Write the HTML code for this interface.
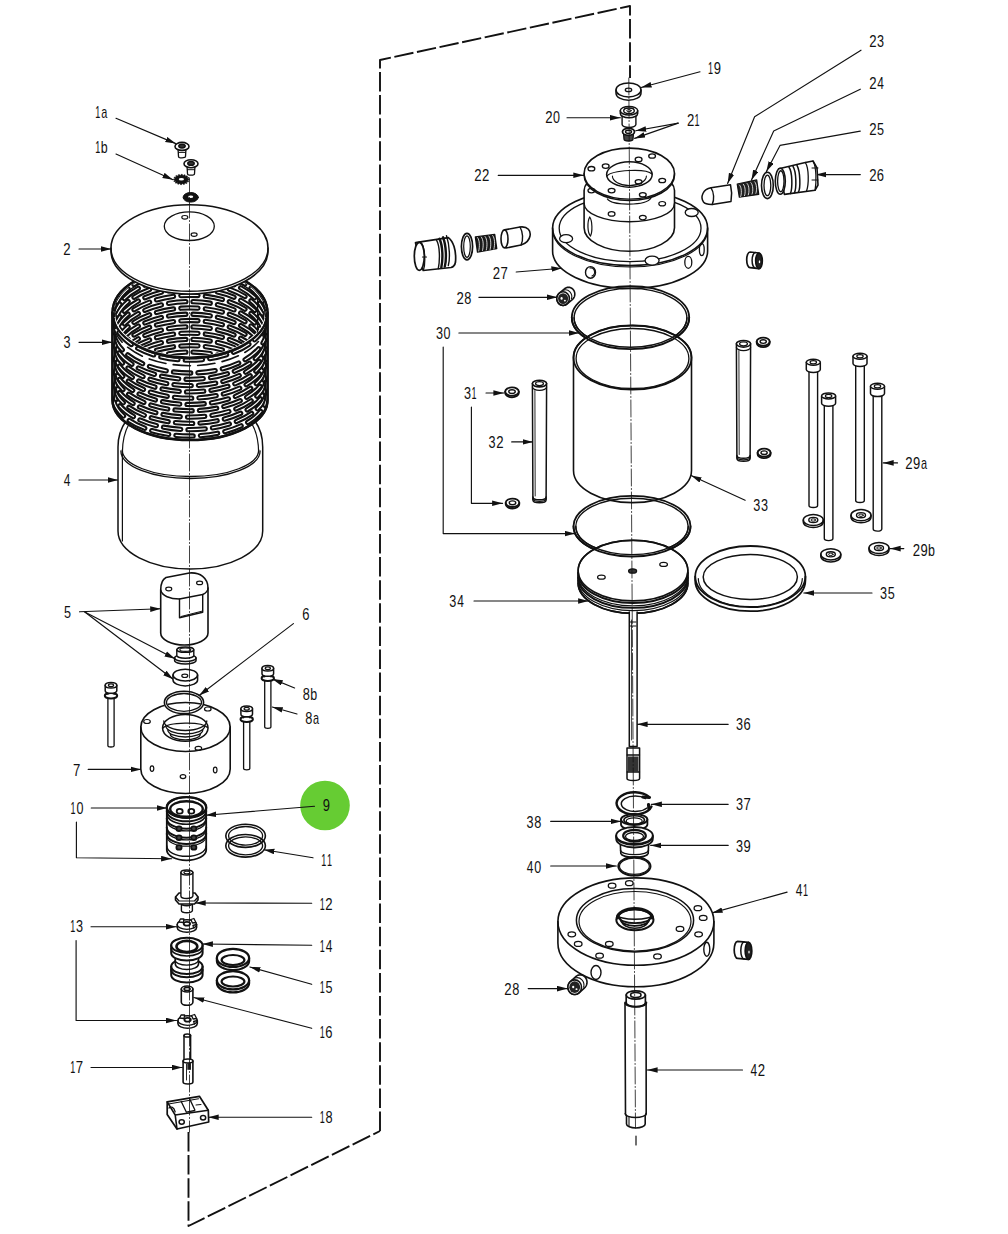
<!DOCTYPE html>
<html><head><meta charset="utf-8"><style>
html,body{margin:0;padding:0;background:#fff;}
svg{display:block;}
text{font-family:"Liberation Sans",sans-serif;fill:#111;stroke:none;}
</style></head><body>
<svg width="1008" height="1234" viewBox="0 0 1008 1234" stroke="#111" stroke-linecap="round" stroke-linejoin="round">
<defs><marker id="ah" markerUnits="userSpaceOnUse" markerWidth="12" markerHeight="8" refX="10.5" refY="3" orient="auto"><path d="M0,0.2 L10.5,3 L0,5.8 Z" fill="#111" stroke="none"/></marker></defs>
<rect width="1008" height="1234" fill="#fff" stroke="none"/>
<path d="M380,1131 L380,60 L630,6 L630,78" stroke-width="1.9" fill="none" stroke-dasharray="19.5 3.6" stroke-linecap="butt"/>
<path d="M188.5,1132 L188.5,1226 L380,1131" stroke-width="1.9" fill="none" stroke-dasharray="19.5 3.6" stroke-linecap="butt"/>
<circle cx="325" cy="805.5" r="24.8" fill="#66cc33" stroke="none"/>
<text transform="translate(95.31,118) scale(0.573,1)" font-size="15.8">1</text>
<text transform="translate(101.14,118) scale(0.690,1)" font-size="15.8">a</text>
<text transform="translate(95.31,152.6) scale(0.573,1)" font-size="15.8">1</text>
<text transform="translate(100.8,152.6) scale(0.788,1)" font-size="15.8">b</text>
<text transform="translate(63.34,255.2) scale(0.834,1)" font-size="15.8">2</text>
<text transform="translate(63.52,348.2) scale(0.801,1)" font-size="15.8">3</text>
<text transform="translate(63.73,485.5) scale(0.754,1)" font-size="15.8">4</text>
<text transform="translate(64.09,617.7) scale(0.801,1)" font-size="15.8">5</text>
<text transform="translate(302.14,619.8) scale(0.823,1)" font-size="15.8">6</text>
<text transform="translate(73.02,775.8) scale(0.835,1)" font-size="15.8">7</text>
<text transform="translate(302.74,699.7) scale(0.809,1)" font-size="15.8">8</text>
<text transform="translate(310.2,699.7) scale(0.788,1)" font-size="15.8">b</text>
<text transform="translate(305.24,723.5) scale(0.809,1)" font-size="15.8">8</text>
<text transform="translate(313.04,723.5) scale(0.690,1)" font-size="15.8">a</text>
<text transform="translate(322.79,811) scale(0.822,1)" font-size="15.8">9</text>
<text transform="translate(70.61,814) scale(0.573,1)" font-size="15.8">1</text>
<text transform="translate(76.41,814) scale(0.794,1)" font-size="15.8">0</text>
<text transform="translate(321.31,865.8) scale(0.573,1)" font-size="15.8">1</text>
<text transform="translate(326.91,865.8) scale(0.573,1)" font-size="15.8">1</text>
<text transform="translate(319.71,909.5) scale(0.573,1)" font-size="15.8">1</text>
<text transform="translate(325.34,909.5) scale(0.834,1)" font-size="15.8">2</text>
<text transform="translate(70.21,932) scale(0.573,1)" font-size="15.8">1</text>
<text transform="translate(76.02,932) scale(0.801,1)" font-size="15.8">3</text>
<text transform="translate(319.71,951.5) scale(0.573,1)" font-size="15.8">1</text>
<text transform="translate(325.73,951.5) scale(0.754,1)" font-size="15.8">4</text>
<text transform="translate(319.71,993) scale(0.573,1)" font-size="15.8">1</text>
<text transform="translate(325.49,993) scale(0.801,1)" font-size="15.8">5</text>
<text transform="translate(319.71,1038.4) scale(0.573,1)" font-size="15.8">1</text>
<text transform="translate(325.34,1038.4) scale(0.823,1)" font-size="15.8">6</text>
<text transform="translate(70.21,1073.2) scale(0.573,1)" font-size="15.8">1</text>
<text transform="translate(75.82,1073.2) scale(0.835,1)" font-size="15.8">7</text>
<text transform="translate(319.71,1123) scale(0.573,1)" font-size="15.8">1</text>
<text transform="translate(325.44,1123) scale(0.809,1)" font-size="15.8">8</text>
<text transform="translate(708.11,73.6) scale(0.573,1)" font-size="15.8">1</text>
<text transform="translate(713.79,73.6) scale(0.822,1)" font-size="15.8">9</text>
<text transform="translate(545.14,123.1) scale(0.834,1)" font-size="15.8">2</text>
<text transform="translate(553.01,123.1) scale(0.794,1)" font-size="15.8">0</text>
<text transform="translate(686.94,126.4) scale(0.834,1)" font-size="15.8">2</text>
<text transform="translate(694.61,126.4) scale(0.573,1)" font-size="15.8">1</text>
<text transform="translate(474.34,181.3) scale(0.834,1)" font-size="15.8">2</text>
<text transform="translate(482.04,181.3) scale(0.834,1)" font-size="15.8">2</text>
<text transform="translate(869.14,47) scale(0.834,1)" font-size="15.8">2</text>
<text transform="translate(877.02,47) scale(0.801,1)" font-size="15.8">3</text>
<text transform="translate(869.14,89.2) scale(0.834,1)" font-size="15.8">2</text>
<text transform="translate(877.23,89.2) scale(0.754,1)" font-size="15.8">4</text>
<text transform="translate(869.14,134.9) scale(0.834,1)" font-size="15.8">2</text>
<text transform="translate(876.99,134.9) scale(0.801,1)" font-size="15.8">5</text>
<text transform="translate(869.14,181.3) scale(0.834,1)" font-size="15.8">2</text>
<text transform="translate(876.84,181.3) scale(0.823,1)" font-size="15.8">6</text>
<text transform="translate(492.84,279.3) scale(0.834,1)" font-size="15.8">2</text>
<text transform="translate(500.52,279.3) scale(0.835,1)" font-size="15.8">7</text>
<text transform="translate(456.44,304.1) scale(0.834,1)" font-size="15.8">2</text>
<text transform="translate(464.24,304.1) scale(0.809,1)" font-size="15.8">8</text>
<text transform="translate(905.34,469.2) scale(0.834,1)" font-size="15.8">2</text>
<text transform="translate(913.09,469.2) scale(0.822,1)" font-size="15.8">9</text>
<text transform="translate(920.94,469.2) scale(0.690,1)" font-size="15.8">a</text>
<text transform="translate(912.64,555.6) scale(0.834,1)" font-size="15.8">2</text>
<text transform="translate(920.39,555.6) scale(0.822,1)" font-size="15.8">9</text>
<text transform="translate(927.9,555.6) scale(0.788,1)" font-size="15.8">b</text>
<text transform="translate(435.92,338.9) scale(0.801,1)" font-size="15.8">3</text>
<text transform="translate(443.61,338.9) scale(0.794,1)" font-size="15.8">0</text>
<text transform="translate(464.12,398.75) scale(0.801,1)" font-size="15.8">3</text>
<text transform="translate(471.61,398.75) scale(0.573,1)" font-size="15.8">1</text>
<text transform="translate(488.62,447.6) scale(0.801,1)" font-size="15.8">3</text>
<text transform="translate(496.14,447.6) scale(0.834,1)" font-size="15.8">2</text>
<text transform="translate(753.22,511.1) scale(0.801,1)" font-size="15.8">3</text>
<text transform="translate(760.92,511.1) scale(0.801,1)" font-size="15.8">3</text>
<text transform="translate(449.22,607.2) scale(0.801,1)" font-size="15.8">3</text>
<text transform="translate(457.13,607.2) scale(0.754,1)" font-size="15.8">4</text>
<text transform="translate(880.12,599.4) scale(0.801,1)" font-size="15.8">3</text>
<text transform="translate(887.79,599.4) scale(0.801,1)" font-size="15.8">5</text>
<text transform="translate(735.92,730.4) scale(0.801,1)" font-size="15.8">3</text>
<text transform="translate(743.44,730.4) scale(0.823,1)" font-size="15.8">6</text>
<text transform="translate(735.92,810) scale(0.801,1)" font-size="15.8">3</text>
<text transform="translate(743.42,810) scale(0.835,1)" font-size="15.8">7</text>
<text transform="translate(526.62,827.9) scale(0.801,1)" font-size="15.8">3</text>
<text transform="translate(534.24,827.9) scale(0.809,1)" font-size="15.8">8</text>
<text transform="translate(735.92,851.8) scale(0.801,1)" font-size="15.8">3</text>
<text transform="translate(743.49,851.8) scale(0.822,1)" font-size="15.8">9</text>
<text transform="translate(526.83,873.2) scale(0.754,1)" font-size="15.8">4</text>
<text transform="translate(534.31,873.2) scale(0.794,1)" font-size="15.8">0</text>
<text transform="translate(795.73,896.4) scale(0.754,1)" font-size="15.8">4</text>
<text transform="translate(803.01,896.4) scale(0.573,1)" font-size="15.8">1</text>
<text transform="translate(504.34,995) scale(0.834,1)" font-size="15.8">2</text>
<text transform="translate(512.14,995) scale(0.809,1)" font-size="15.8">8</text>
<text transform="translate(750.43,1076) scale(0.754,1)" font-size="15.8">4</text>
<text transform="translate(757.74,1076) scale(0.834,1)" font-size="15.8">2</text>
<path d="M116,118.3 L175.8,143.6" stroke-width="1.15" fill="none" marker-end="url(#ah)"/>
<path d="M116,154 L173,179.7" stroke-width="1.15" fill="none" marker-end="url(#ah)"/>
<path d="M79,249 L111.3,249" stroke-width="1.15" fill="none" marker-end="url(#ah)"/>
<path d="M79,342.3 L112.4,342.3" stroke-width="1.15" fill="none" marker-end="url(#ah)"/>
<path d="M79,480 L118,480" stroke-width="1.15" fill="none" marker-end="url(#ah)"/>
<path d="M79.5,611.8 L160.7,608.75" stroke-width="1.15" fill="none" marker-end="url(#ah)"/>
<path d="M84.8,612 L175,658.75" stroke-width="1.15" fill="none" marker-end="url(#ah)"/>
<path d="M84.8,612 L173.2,679.3" stroke-width="1.15" fill="none" marker-end="url(#ah)"/>
<path d="M293.4,623.6 L199.1,695.5" stroke-width="1.15" fill="none" marker-end="url(#ah)"/>
<path d="M88.2,769.4 L141.2,769.4" stroke-width="1.15" fill="none" marker-end="url(#ah)"/>
<path d="M294.6,688 L272.3,678.9" stroke-width="1.15" fill="none" marker-end="url(#ah)"/>
<path d="M297,714 L272.3,707" stroke-width="1.15" fill="none" marker-end="url(#ah)"/>
<path d="M314.5,806.3 L205.8,815.2" stroke-width="1.15" fill="none" marker-end="url(#ah)"/>
<path d="M91.25,808 L167.1,808" stroke-width="1.15" fill="none" marker-end="url(#ah)"/>
<path d="M76.4,822 L76.4,857.8 L171.6,858.7" stroke-width="1.15" fill="none" marker-end="url(#ah)"/>
<path d="M313,857.8 L263.9,849.8" stroke-width="1.15" fill="none" marker-end="url(#ah)"/>
<path d="M311.7,903.2 L195.2,903" stroke-width="1.15" fill="none" marker-end="url(#ah)"/>
<path d="M91,926.7 L176.5,926.7" stroke-width="1.15" fill="none" marker-end="url(#ah)"/>
<path d="M76.1,940.6 L76.1,1020.5 L176.5,1020.5" stroke-width="1.15" fill="none" marker-end="url(#ah)"/>
<path d="M311.7,945.2 L202.4,944" stroke-width="1.15" fill="none" marker-end="url(#ah)"/>
<path d="M311.7,984.3 L249.9,967" stroke-width="1.15" fill="none" marker-end="url(#ah)"/>
<path d="M311.7,1028.3 L193.8,997.5" stroke-width="1.15" fill="none" marker-end="url(#ah)"/>
<path d="M91,1067.5 L182.3,1067.5" stroke-width="1.15" fill="none" marker-end="url(#ah)"/>
<path d="M311.7,1117.2 L208.2,1117.2" stroke-width="1.15" fill="none" marker-end="url(#ah)"/>
<path d="M700,71.8 L641.1,87.5" stroke-width="1.15" fill="none" marker-end="url(#ah)"/>
<path d="M567,117.7 L620.4,117.7" stroke-width="1.15" fill="none" marker-end="url(#ah)"/>
<path d="M678.2,123.1 L635.7,130.75" stroke-width="1.15" fill="none" marker-end="url(#ah)"/>
<path d="M678.2,123.1 L634.6,138.4" stroke-width="1.15" fill="none" marker-end="url(#ah)"/>
<path d="M498.2,175.3 L583.8,175.3" stroke-width="1.15" fill="none" marker-end="url(#ah)"/>
<path d="M861,50.2 L754.6,116.8 L727.6,183.5" stroke-width="1.15" fill="none" marker-end="url(#ah)"/>
<path d="M860.3,89.2 L773.7,131.1 L751.4,180.3" stroke-width="1.15" fill="none" marker-end="url(#ah)"/>
<path d="M860.3,131.1 L780,145.4 L766.3,171.7" stroke-width="1.15" fill="none" marker-end="url(#ah)"/>
<path d="M860.3,174.6 L815.9,174.6" stroke-width="1.15" fill="none" marker-end="url(#ah)"/>
<path d="M516.2,272 L561.9,268.2" stroke-width="1.15" fill="none" marker-end="url(#ah)"/>
<path d="M478.9,297.3 L557.5,297.3" stroke-width="1.15" fill="none" marker-end="url(#ah)"/>
<path d="M458.9,333 L579,333" stroke-width="1.15" fill="none" marker-end="url(#ah)"/>
<path d="M443.2,347 L443.2,533.6 L575.1,533.6" stroke-width="1.15" fill="none" marker-end="url(#ah)"/>
<path d="M486,393 L503.9,393" stroke-width="1.15" fill="none" marker-end="url(#ah)"/>
<path d="M471.4,407 L471.4,503.3 L502.6,503.3" stroke-width="1.15" fill="none" marker-end="url(#ah)"/>
<path d="M511.7,441.9 L533,441.9" stroke-width="1.15" fill="none" marker-end="url(#ah)"/>
<path d="M745.1,500.3 L691.1,475.6" stroke-width="1.15" fill="none" marker-end="url(#ah)"/>
<path d="M474,601 L588.6,601" stroke-width="1.15" fill="none" marker-end="url(#ah)"/>
<path d="M897.5,462.9 L883.2,462.9" stroke-width="1.15" fill="none" marker-end="url(#ah)"/>
<path d="M903.8,548.6 L890.2,548.6" stroke-width="1.15" fill="none" marker-end="url(#ah)"/>
<path d="M872,593 L803.8,593" stroke-width="1.15" fill="none" marker-end="url(#ah)"/>
<path d="M728.2,724.3 L637.1,724.3" stroke-width="1.15" fill="none" marker-end="url(#ah)"/>
<path d="M728.2,804.3 L651.4,804.3" stroke-width="1.15" fill="none" marker-end="url(#ah)"/>
<path d="M550.7,821.4 L621,821.4" stroke-width="1.15" fill="none" marker-end="url(#ah)"/>
<path d="M728.2,845.4 L650.7,845.4" stroke-width="1.15" fill="none" marker-end="url(#ah)"/>
<path d="M550.7,866 L616.4,866" stroke-width="1.15" fill="none" marker-end="url(#ah)"/>
<path d="M787.1,892.1 L712.1,912.9" stroke-width="1.15" fill="none" marker-end="url(#ah)"/>
<path d="M528.2,988.6 L567.5,988.6" stroke-width="1.15" fill="none" marker-end="url(#ah)"/>
<path d="M742.5,1070 L647.1,1070" stroke-width="1.15" fill="none" marker-end="url(#ah)"/>
<path d="M118,447 C118,437 121,428 126,421 L255,421 C260,428 262.7,437 262.7,447 L262.7,531 A72.35,38 0 0 1 118,531 Z" stroke-width="0" fill="#fff" stroke="none"/>
<path d="M126,421 C121,428 118,437 118,447 L118,531 A72.35,38 0 0 0 262.7,531 L262.7,447 C262.7,437 260,428 255,421" stroke-width="1.5" fill="none" />
<path d="M129,424 C124.5,432 122.5,442 122.4,452 L122.4,541" stroke-width="1.2" fill="none" />
<path d="M252,424 C256.5,432 258.5,442 258.6,452" stroke-width="1.2" fill="none" />
<path d="M122.3,450 A68.2,26.5 0 0 0 258.7,450" stroke-width="1.3" fill="none" />
<path d="M120.9,451 A69.6,27.5 0 0 0 260.1,451" stroke-width="1.3" fill="none" />
<defs><clipPath id="mtopc"><ellipse cx="190" cy="313" rx="76.5" ry="43.8"/></clipPath><clipPath id="mbody"><path d="M112.5,312.5 L112.5,400 A77.5,40 0 0 0 267.5,400 L267.5,312.5 A77.5,45 0 0 1 112.5,312.5 Z"/></clipPath></defs>
<path d="M112.5,312.5 A77.5,45 0 0 1 267.5,312.5 L267.5,400 A77.5,40 0 0 1 112.5,400 Z" stroke-width="2.2" fill="#fff" />
<g clip-path="url(#mtopc)">
<path d="M114.5,307.8 A75.5,44 0 0 1 265.5,307.8" stroke-width="5.3" fill="none" stroke-dasharray="17.3 7.3" stroke-dashoffset="0"/>
<path d="M114.5,307.8 A75.5,44 0 0 1 265.5,307.8" stroke-width="1.15" fill="none" stroke="#fff" stroke-dasharray="17.3 7.3" stroke-dashoffset="0"/>
<path d="M114.5,314.1 A75.5,44 0 0 1 265.5,314.1" stroke-width="5.3" fill="none" stroke-dasharray="17.3 7.3" stroke-dashoffset="12.3"/>
<path d="M114.5,314.1 A75.5,44 0 0 1 265.5,314.1" stroke-width="1.15" fill="none" stroke="#fff" stroke-dasharray="17.3 7.3" stroke-dashoffset="12.3"/>
<path d="M114.5,320.4 A75.5,44 0 0 1 265.5,320.4" stroke-width="5.3" fill="none" stroke-dasharray="17.3 7.3" stroke-dashoffset="0"/>
<path d="M114.5,320.4 A75.5,44 0 0 1 265.5,320.4" stroke-width="1.15" fill="none" stroke="#fff" stroke-dasharray="17.3 7.3" stroke-dashoffset="0"/>
<path d="M114.5,326.7 A75.5,44 0 0 1 265.5,326.7" stroke-width="5.3" fill="none" stroke-dasharray="17.3 7.3" stroke-dashoffset="12.3"/>
<path d="M114.5,326.7 A75.5,44 0 0 1 265.5,326.7" stroke-width="1.15" fill="none" stroke="#fff" stroke-dasharray="17.3 7.3" stroke-dashoffset="12.3"/>
<path d="M114.5,333 A75.5,44 0 0 1 265.5,333" stroke-width="5.3" fill="none" stroke-dasharray="17.3 7.3" stroke-dashoffset="0"/>
<path d="M114.5,333 A75.5,44 0 0 1 265.5,333" stroke-width="1.15" fill="none" stroke="#fff" stroke-dasharray="17.3 7.3" stroke-dashoffset="0"/>
<path d="M114.5,339.3 A75.5,44 0 0 1 265.5,339.3" stroke-width="5.3" fill="none" stroke-dasharray="17.3 7.3" stroke-dashoffset="12.3"/>
<path d="M114.5,339.3 A75.5,44 0 0 1 265.5,339.3" stroke-width="1.15" fill="none" stroke="#fff" stroke-dasharray="17.3 7.3" stroke-dashoffset="12.3"/>
<path d="M114.5,345.6 A75.5,44 0 0 1 265.5,345.6" stroke-width="5.3" fill="none" stroke-dasharray="17.3 7.3" stroke-dashoffset="0"/>
<path d="M114.5,345.6 A75.5,44 0 0 1 265.5,345.6" stroke-width="1.15" fill="none" stroke="#fff" stroke-dasharray="17.3 7.3" stroke-dashoffset="0"/>
<path d="M114.5,351.9 A75.5,44 0 0 1 265.5,351.9" stroke-width="5.3" fill="none" stroke-dasharray="17.3 7.3" stroke-dashoffset="12.3"/>
<path d="M114.5,351.9 A75.5,44 0 0 1 265.5,351.9" stroke-width="1.15" fill="none" stroke="#fff" stroke-dasharray="17.3 7.3" stroke-dashoffset="12.3"/>
<path d="M114.5,358.2 A75.5,44 0 0 1 265.5,358.2" stroke-width="5.3" fill="none" stroke-dasharray="17.3 7.3" stroke-dashoffset="0"/>
<path d="M114.5,358.2 A75.5,44 0 0 1 265.5,358.2" stroke-width="1.15" fill="none" stroke="#fff" stroke-dasharray="17.3 7.3" stroke-dashoffset="0"/>
<path d="M114.5,364.5 A75.5,44 0 0 1 265.5,364.5" stroke-width="5.3" fill="none" stroke-dasharray="17.3 7.3" stroke-dashoffset="12.3"/>
<path d="M114.5,364.5 A75.5,44 0 0 1 265.5,364.5" stroke-width="1.15" fill="none" stroke="#fff" stroke-dasharray="17.3 7.3" stroke-dashoffset="12.3"/>
<path d="M114.5,370.8 A75.5,44 0 0 1 265.5,370.8" stroke-width="5.3" fill="none" stroke-dasharray="17.3 7.3" stroke-dashoffset="0"/>
<path d="M114.5,370.8 A75.5,44 0 0 1 265.5,370.8" stroke-width="1.15" fill="none" stroke="#fff" stroke-dasharray="17.3 7.3" stroke-dashoffset="0"/>
<path d="M114.5,377.1 A75.5,44 0 0 1 265.5,377.1" stroke-width="5.3" fill="none" stroke-dasharray="17.3 7.3" stroke-dashoffset="12.3"/>
<path d="M114.5,377.1 A75.5,44 0 0 1 265.5,377.1" stroke-width="1.15" fill="none" stroke="#fff" stroke-dasharray="17.3 7.3" stroke-dashoffset="12.3"/>
<path d="M114.5,383.4 A75.5,44 0 0 1 265.5,383.4" stroke-width="5.3" fill="none" stroke-dasharray="17.3 7.3" stroke-dashoffset="0"/>
<path d="M114.5,383.4 A75.5,44 0 0 1 265.5,383.4" stroke-width="1.15" fill="none" stroke="#fff" stroke-dasharray="17.3 7.3" stroke-dashoffset="0"/>
<path d="M114.5,389.7 A75.5,44 0 0 1 265.5,389.7" stroke-width="5.3" fill="none" stroke-dasharray="17.3 7.3" stroke-dashoffset="12.3"/>
<path d="M114.5,389.7 A75.5,44 0 0 1 265.5,389.7" stroke-width="1.15" fill="none" stroke="#fff" stroke-dasharray="17.3 7.3" stroke-dashoffset="12.3"/>
<path d="M114.5,396 A75.5,44 0 0 1 265.5,396" stroke-width="5.3" fill="none" stroke-dasharray="17.3 7.3" stroke-dashoffset="0"/>
<path d="M114.5,396 A75.5,44 0 0 1 265.5,396" stroke-width="1.15" fill="none" stroke="#fff" stroke-dasharray="17.3 7.3" stroke-dashoffset="0"/>
</g>
<g clip-path="url(#mbody)">
<path d="M113,315.36 A77,44.84 0 0 0 267,315.36" stroke-width="5.3" fill="none" stroke-dasharray="17.3 7.3" stroke-dashoffset="6"/>
<path d="M113,315.36 A77,44.84 0 0 0 267,315.36" stroke-width="1.15" fill="none" stroke="#fff" stroke-dasharray="17.3 7.3" stroke-dashoffset="6"/>
<path d="M113,328.94 A77,44.06 0 0 0 267,328.94" stroke-width="5.3" fill="none" stroke-dasharray="17.3 7.3" stroke-dashoffset="18.3"/>
<path d="M113,328.94 A77,44.06 0 0 0 267,328.94" stroke-width="1.15" fill="none" stroke="#fff" stroke-dasharray="17.3 7.3" stroke-dashoffset="18.3"/>
<path d="M113,335.62 A77,43.68 0 0 0 267,335.62" stroke-width="5.3" fill="none" stroke-dasharray="17.3 7.3" stroke-dashoffset="6"/>
<path d="M113,335.62 A77,43.68 0 0 0 267,335.62" stroke-width="1.15" fill="none" stroke="#fff" stroke-dasharray="17.3 7.3" stroke-dashoffset="6"/>
<path d="M113,342.3 A77,43.3 0 0 0 267,342.3" stroke-width="5.3" fill="none" stroke-dasharray="17.3 7.3" stroke-dashoffset="18.3"/>
<path d="M113,342.3 A77,43.3 0 0 0 267,342.3" stroke-width="1.15" fill="none" stroke="#fff" stroke-dasharray="17.3 7.3" stroke-dashoffset="18.3"/>
<path d="M113,348.98 A77,42.92 0 0 0 267,348.98" stroke-width="5.3" fill="none" stroke-dasharray="17.3 7.3" stroke-dashoffset="6"/>
<path d="M113,348.98 A77,42.92 0 0 0 267,348.98" stroke-width="1.15" fill="none" stroke="#fff" stroke-dasharray="17.3 7.3" stroke-dashoffset="6"/>
<path d="M113,355.67 A77,42.53 0 0 0 267,355.67" stroke-width="5.3" fill="none" stroke-dasharray="17.3 7.3" stroke-dashoffset="18.3"/>
<path d="M113,355.67 A77,42.53 0 0 0 267,355.67" stroke-width="1.15" fill="none" stroke="#fff" stroke-dasharray="17.3 7.3" stroke-dashoffset="18.3"/>
<path d="M113,362.35 A77,42.15 0 0 0 267,362.35" stroke-width="5.3" fill="none" stroke-dasharray="17.3 7.3" stroke-dashoffset="6"/>
<path d="M113,362.35 A77,42.15 0 0 0 267,362.35" stroke-width="1.15" fill="none" stroke="#fff" stroke-dasharray="17.3 7.3" stroke-dashoffset="6"/>
<path d="M113,369.03 A77,41.77 0 0 0 267,369.03" stroke-width="5.3" fill="none" stroke-dasharray="17.3 7.3" stroke-dashoffset="18.3"/>
<path d="M113,369.03 A77,41.77 0 0 0 267,369.03" stroke-width="1.15" fill="none" stroke="#fff" stroke-dasharray="17.3 7.3" stroke-dashoffset="18.3"/>
<path d="M113,375.71 A77,41.39 0 0 0 267,375.71" stroke-width="5.3" fill="none" stroke-dasharray="17.3 7.3" stroke-dashoffset="6"/>
<path d="M113,375.71 A77,41.39 0 0 0 267,375.71" stroke-width="1.15" fill="none" stroke="#fff" stroke-dasharray="17.3 7.3" stroke-dashoffset="6"/>
<path d="M113,382.39 A77,41.01 0 0 0 267,382.39" stroke-width="5.3" fill="none" stroke-dasharray="17.3 7.3" stroke-dashoffset="18.3"/>
<path d="M113,382.39 A77,41.01 0 0 0 267,382.39" stroke-width="1.15" fill="none" stroke="#fff" stroke-dasharray="17.3 7.3" stroke-dashoffset="18.3"/>
<path d="M113,389.08 A77,40.62 0 0 0 267,389.08" stroke-width="5.3" fill="none" stroke-dasharray="17.3 7.3" stroke-dashoffset="6"/>
<path d="M113,389.08 A77,40.62 0 0 0 267,389.08" stroke-width="1.15" fill="none" stroke="#fff" stroke-dasharray="17.3 7.3" stroke-dashoffset="6"/>
<path d="M113,395.76 A77,40.24 0 0 0 267,395.76" stroke-width="5.3" fill="none" stroke-dasharray="17.3 7.3" stroke-dashoffset="18.3"/>
<path d="M113,395.76 A77,40.24 0 0 0 267,395.76" stroke-width="1.15" fill="none" stroke="#fff" stroke-dasharray="17.3 7.3" stroke-dashoffset="18.3"/>
<path d="M113,321.2 A77,44.5 0 0 0 267,321.2" stroke-width="1.6" fill="none" stroke-dasharray="17.3 7.3" stroke-dashoffset="18.3"/>
</g>
<path d="M113.5,312.5 A76.5,45 0 0 0 266.5,312.5" stroke-width="3.0" fill="none" stroke="#fff"/>
<path d="M113.5,313.5 A76.5,45 0 0 0 266.5,313.5" stroke-width="1.3" fill="none" />
<ellipse cx="190" cy="312.5" rx="77.5" ry="45" stroke-width="2.2" fill="none" />
<path d="M114.5,316.5 A75.5,44 0 0 1 265.5,316.5" stroke-width="1.3" fill="none" />
<path d="M112.5,312.5 L112.5,400 A77.5,40 0 0 0 267.5,400 L267.5,312.5" stroke-width="2.6" fill="none" />
<path d="M114.5,318.5 L114.5,400" stroke-width="1.2" fill="none" />
<path d="M265.5,318.5 L265.5,400" stroke-width="1.2" fill="none" />
<line x1="257.6" y1="298" x2="257.6" y2="332" stroke-width="1.3" />
<path d="M111,248 A78.5,43.3 0 0 1 268,248 L268,250.7 A78.5,43.3 0 0 1 111,250.7 Z" stroke-width="1.6" fill="#fff" />
<path d="M111,248 A78.5,43.3 0 0 0 268,248" stroke-width="1.4" fill="none" />
<ellipse cx="189.3" cy="226.2" rx="25" ry="14.3" stroke-width="1.3" fill="none" />
<ellipse cx="184.8" cy="217.3" rx="3" ry="1.8" stroke-width="1.2" fill="none" />
<ellipse cx="194.1" cy="234.6" rx="3" ry="1.8" stroke-width="1.2" fill="none" />
<path d="M178,148.4 L178.5,156.4 A3.5,1.5 0 0 0 185.5,156.4 L186,148.4" stroke-width="1.3" fill="#fff" />
<line x1="178.4" y1="152.4" x2="185.6" y2="152.4" stroke-width="1" />
<ellipse cx="182" cy="146.4" rx="7" ry="4" stroke-width="1.6" fill="#fff" />
<ellipse cx="182" cy="146.1" rx="3.2" ry="1.8" stroke-width="1.5" fill="#333" />
<path d="M187,165.7 L187.5,173.7 A3.5,1.5 0 0 0 194.5,173.7 L195,165.7" stroke-width="1.3" fill="#fff" />
<line x1="187.4" y1="169.7" x2="194.6" y2="169.7" stroke-width="1" />
<ellipse cx="191" cy="163.7" rx="7" ry="4" stroke-width="1.6" fill="#fff" />
<ellipse cx="191" cy="163.4" rx="3.2" ry="1.8" stroke-width="1.5" fill="#333" />
<path d="M189.40,179.50 L189.36,180.01 L187.83,180.33 L187.68,180.74 L188.79,181.49 L188.46,181.95 L186.85,181.87 L186.47,182.21 L187.06,183.18 L186.48,183.52 L185.04,183.05 L184.49,183.26 L184.46,184.30 L183.72,184.48 L182.68,183.68 L182.04,183.74 L181.40,184.70 L180.62,184.67 L180.12,183.68 L179.50,183.58 L178.34,184.30 L177.63,184.09 L177.76,183.05 L177.24,182.80 L175.74,183.18 L175.22,182.80 L175.95,181.87 L175.61,181.51 L174.01,181.49 L173.74,181.01 L174.97,180.33 L174.87,179.92 L173.40,179.50 L173.44,178.99 L174.97,178.67 L175.12,178.26 L174.01,177.51 L174.34,177.05 L175.95,177.13 L176.33,176.79 L175.74,175.82 L176.32,175.48 L177.76,175.95 L178.31,175.74 L178.34,174.70 L179.08,174.52 L180.12,175.32 L180.76,175.26 L181.40,174.30 L182.18,174.33 L182.68,175.32 L183.30,175.42 L184.46,174.70 L185.17,174.91 L185.04,175.95 L185.56,176.20 L187.06,175.82 L187.58,176.20 L186.85,177.13 L187.19,177.49 L188.79,177.51 L189.06,177.99 L187.83,178.67 L187.93,179.08 Z" stroke-width="0.6" fill="#111" />
<ellipse cx="181.4" cy="179.3" rx="2.6" ry="1.2" stroke-width="0" fill="#fff" stroke="none"/>
<ellipse cx="190.7" cy="197.3" rx="7.6" ry="4.8" stroke-width="1" fill="#111" />
<ellipse cx="190.7" cy="196.8" rx="2.5" ry="1.3" stroke-width="0" fill="#fff" stroke="none"/>
<path d="M160.7,590 C160.7,583 163,579 166,577.5 L189.3,573 C200,572 208,578 208,588 L208,633 A23.6,12 0 0 1 160.7,633 Z" stroke-width="1.6" fill="#fff" />
<path d="M160.7,590 C162,596 170,599 179.5,599 L202.7,594.5 C206,593 208,591 208,588" stroke-width="1.4" fill="none" />
<path d="M179.5,599 L179.5,617.7 L202.7,612.3 L202.7,594.5" stroke-width="1.4" fill="none" />
<path d="M181,616.5 L202.7,611" stroke-width="1.0" fill="none" />
<ellipse cx="168.75" cy="589" rx="3" ry="1.8" stroke-width="1.2" fill="none" />
<ellipse cx="199.6" cy="582.9" rx="3" ry="1.8" stroke-width="1.2" fill="none" />
<path d="M174.6,657.9 A10.7,3.6 0 0 1 196,657.9 L196,660.5 A10.7,3.6 0 0 1 174.6,660.5 Z" stroke-width="1.5" fill="#fff" />
<path d="M174.6,657.9 A10.7,3.6 0 0 0 196,657.9" stroke-width="1.5" fill="none" />
<path d="M176.8,649.7 A8.5,2.7 0 0 1 193.8,649.7 L193.8,655.5 A8.5,2.7 0 0 1 176.8,655.5 Z" stroke-width="1.4" fill="#fff" />
<path d="M176.8,649.7 A8.5,2.7 0 0 0 193.8,649.7" stroke-width="1.4" fill="none" />
<ellipse cx="185.3" cy="649.7" rx="5.5" ry="1.7" stroke-width="1.1" fill="none" />
<path d="M173,675.1 A12.3,5.9 0 0 1 197.6,675.1 L197.6,680 A12.3,5.9 0 0 1 173,680 Z" stroke-width="1.5" fill="#fff" />
<path d="M173,675.1 A12.3,5.9 0 0 0 197.6,675.1" stroke-width="1.5" fill="none" />
<ellipse cx="184.8" cy="675.8" rx="3" ry="1.7" stroke-width="1.2" fill="none" />
<path d="M140.8,727 A44.7,24.5 0 0 1 230.2,727 L230.2,769 A44.7,24.5 0 0 1 140.8,769 Z" stroke-width="1.6" fill="#fff" />
<path d="M140.8,727 A44.7,24.5 0 0 0 230.2,727" stroke-width="1.6" fill="none" />
<ellipse cx="185.3" cy="727.9" rx="22.75" ry="13.4" stroke-width="1.5" fill="#fff" />
<path d="M163,728 C168,722 202,721 207.5,727.5" stroke-width="1.2" fill="none" />
<path d="M163.8,721 A21.5,9.5 0 0 0 206.8,721" stroke-width="1.3" fill="none" />
<path d="M165.8,725.7 A19.5,8.3 0 0 0 204.8,725.7" stroke-width="1.3" fill="none" />
<path d="M167.8,729.9 A17.5,7.1 0 0 0 202.8,729.9" stroke-width="1.3" fill="none" />
<path d="M170.3,733.9 A15,5.9 0 0 0 200.3,733.9" stroke-width="1.3" fill="none" />
<ellipse cx="147" cy="721.5" rx="3.3" ry="2" stroke-width="1.2" fill="none" />
<ellipse cx="207.8" cy="709" rx="3.3" ry="2" stroke-width="1.2" fill="none" />
<ellipse cx="198.4" cy="748.3" rx="3.3" ry="2" stroke-width="1.2" fill="none" />
<ellipse cx="152" cy="768.6" rx="1.8" ry="2.8" stroke-width="1.2" fill="none" />
<ellipse cx="183" cy="776.6" rx="2.8" ry="2" stroke-width="1.2" fill="none" />
<ellipse cx="215.2" cy="770" rx="1.8" ry="2.8" stroke-width="1.2" fill="none" />
<ellipse cx="184" cy="702.4" rx="18.55" ry="10.05" stroke-width="3.2" fill="none" stroke="#fff"/>
<ellipse cx="184" cy="702.4" rx="19.6" ry="11.2" stroke-width="1.6" fill="none" />
<ellipse cx="184" cy="702.4" rx="17.5" ry="8.9" stroke-width="1.3" fill="none" />
<path d="M107.9,695.7 L107.9,745.7 A3.1,1.3 0 0 0 114.1,745.7 L114.1,695.7 Z" stroke-width="1.3" fill="#fff" />
<ellipse cx="111" cy="695.7" rx="6.2" ry="2.7" stroke-width="2.0" fill="#fff" />
<path d="M105.2,685.3 L105.2,690.8 A5.8,2.5 0 0 0 116.8,690.8 L116.8,685.3 Z" stroke-width="1.5" fill="#fff" />
<ellipse cx="111" cy="685.3" rx="5.8" ry="2.8" stroke-width="1.5" fill="#fff" />
<ellipse cx="111" cy="685.3" rx="2.6" ry="1.4" stroke-width="1.2" fill="none" />
<path d="M107.9,693.3 L107.9,694.2 M114.1,693.3 L114.1,694.2" stroke-width="1.3" fill="none" />
<path d="M243.6,719.3 L243.6,768.6 A3.1,1.3 0 0 0 249.79999999999998,768.6 L249.79999999999998,719.3 Z" stroke-width="1.3" fill="#fff" />
<ellipse cx="246.7" cy="719.3" rx="6.2" ry="2.7" stroke-width="2.0" fill="#fff" />
<path d="M240.89999999999998,708.8 L240.89999999999998,714.3 A5.8,2.5 0 0 0 252.5,714.3 L252.5,708.8 Z" stroke-width="1.5" fill="#fff" />
<ellipse cx="246.7" cy="708.8" rx="5.8" ry="2.8" stroke-width="1.5" fill="#fff" />
<ellipse cx="246.7" cy="708.8" rx="2.6" ry="1.4" stroke-width="1.2" fill="none" />
<path d="M243.6,716.8 L243.6,717.8 M249.79999999999998,716.8 L249.79999999999998,717.8" stroke-width="1.3" fill="none" />
<path d="M264.7,678.3 L264.7,727 A3.1,1.3 0 0 0 270.90000000000003,727 L270.90000000000003,678.3 Z" stroke-width="1.3" fill="#fff" />
<ellipse cx="267.8" cy="678.3" rx="6.2" ry="2.7" stroke-width="2.0" fill="#fff" />
<path d="M262.0,668.3 L262.0,673.8 A5.8,2.5 0 0 0 273.6,673.8 L273.6,668.3 Z" stroke-width="1.5" fill="#fff" />
<ellipse cx="267.8" cy="668.3" rx="5.8" ry="2.8" stroke-width="1.5" fill="#fff" />
<ellipse cx="267.8" cy="668.3" rx="2.6" ry="1.4" stroke-width="1.2" fill="none" />
<path d="M264.7,676.3 L264.7,676.8 M270.90000000000003,676.3 L270.90000000000003,676.8" stroke-width="1.3" fill="none" />
<path d="M166.8,807.4 A19.7,10.3 0 0 1 206.2,807.4 L206.2,850 A19.7,10.3 0 0 1 166.8,850 Z" stroke-width="1.8" fill="#fff" />
<path d="M166.8,807.4 A19.7,10.3 0 0 0 206.2,807.4" stroke-width="1.8" fill="none" />
<ellipse cx="186.5" cy="807.4" rx="19.7" ry="10.3" stroke-width="2.4" fill="none" />
<ellipse cx="186.5" cy="809" rx="16.3" ry="7.8" stroke-width="2.4" fill="none" />
<path d="M166.8,811 A19.7,10.3 0 0 0 206.2,811" stroke-width="2.0" fill="none" />
<path d="M166.8,814 A19.7,10.3 0 0 0 206.2,814" stroke-width="1.6" fill="none" />
<path d="M166.8,818.4 A19.7,10.3 0 0 0 206.2,818.4" stroke-width="2.0" fill="none" />
<path d="M166.8,820.6 A19.7,10.3 0 0 0 206.2,820.6" stroke-width="1.2" fill="none" />
<path d="M166.8,827.4 A19.7,10.3 0 0 0 206.2,827.4" stroke-width="2.0" fill="none" />
<path d="M166.8,829.6 A19.7,10.3 0 0 0 206.2,829.6" stroke-width="1.2" fill="none" />
<path d="M166.8,833.7 A19.7,10.3 0 0 0 206.2,833.7" stroke-width="2.0" fill="none" />
<path d="M166.8,835.9 A19.7,10.3 0 0 0 206.2,835.9" stroke-width="1.2" fill="none" />
<path d="M166.8,846 A19.7,10.3 0 0 0 206.2,846" stroke-width="1.4" fill="none" />
<ellipse cx="179.7" cy="811.3" rx="3" ry="2.4" stroke-width="1.8" fill="none" />
<ellipse cx="191.3" cy="811.3" rx="3" ry="2.4" stroke-width="1.8" fill="none" />
<ellipse cx="179" cy="828.7" rx="2.6" ry="2.3" stroke-width="1.8" fill="#444" />
<ellipse cx="193.8" cy="828.7" rx="2.6" ry="2.3" stroke-width="1.8" fill="#444" />
<ellipse cx="179" cy="837.7" rx="2.6" ry="2.3" stroke-width="1.8" fill="#444" />
<ellipse cx="193.8" cy="837.7" rx="2.6" ry="2.3" stroke-width="1.8" fill="#444" />
<ellipse cx="179" cy="847.4" rx="2.6" ry="2.3" stroke-width="1.8" fill="#444" />
<ellipse cx="193.8" cy="847.4" rx="2.6" ry="2.3" stroke-width="1.8" fill="#444" />
<ellipse cx="245.6" cy="845.8" rx="19.8" ry="11.3" stroke-width="1.6" fill="none" />
<ellipse cx="245.6" cy="845.8" rx="17" ry="9" stroke-width="1.3" fill="none" />
<ellipse cx="245.6" cy="835.8" rx="19.8" ry="11.6" stroke-width="1.6" fill="none" />
<ellipse cx="245.6" cy="835.8" rx="17" ry="9.3" stroke-width="1.3" fill="none" />
<path d="M181.4,903.5 A5.5,2.2 0 0 1 192.4,903.5 L192.4,910.5 A5.5,2.2 0 0 1 181.4,910.5 Z" stroke-width="1.4" fill="#fff" />
<path d="M181.4,903.5 A5.5,2.2 0 0 0 192.4,903.5" stroke-width="1.4" fill="none" />
<path d="M175.5,897 L179,893 L195,893 L198,897 L198,900 L194.5,904 L179,904 L175.5,900 Z" stroke-width="1.6" fill="#fff" />
<path d="M175.5,897 L179,901 L194.5,901 L198,897" stroke-width="1.2" fill="none" />
<path d="M180.9,872.5 A6,2.5 0 0 1 192.9,872.5 L192.9,896 A6,2.5 0 0 1 180.9,896 Z" stroke-width="1.4" fill="#fff" />
<path d="M180.9,872.5 A6,2.5 0 0 0 192.9,872.5" stroke-width="1.4" fill="none" />
<ellipse cx="186.9" cy="872.5" rx="3" ry="1.3" stroke-width="1.1" fill="none" />
<path d="M177.20000000000002,924.5 L177.20000000000002,927.5 A9.7,4.8 0 0 0 196.6,927.5 L196.6,924.5 A9.7,4.8 0 0 0 177.20000000000002,924.5 Z" stroke-width="1.6" fill="#fff" />
<path d="M177.2,924.5 A9.7,4.8 0 0 0 196.6,924.5" stroke-width="1.3" fill="none" />
<ellipse cx="186.9" cy="923.7" rx="3.2" ry="1.9" stroke-width="1.8" fill="none" />
<path d="M178.9,922.0 L180.4,919.0 L183.9,919.0 L183.4,922.5 Z" stroke-width="1.3" fill="#fff" />
<path d="M190.9,919.5 L193.9,918.5 L195.9,922.5 L192.4,923.0 Z" stroke-width="1.3" fill="#fff" />
<path d="M196.6,924.5 L192.9,925.5 L193.9,928.0" stroke-width="1.3" fill="none" />
<path d="M177.9,1020.5 L177.9,1023.5 A9.7,4.8 0 0 0 197.29999999999998,1023.5 L197.29999999999998,1020.5 A9.7,4.8 0 0 0 177.9,1020.5 Z" stroke-width="1.6" fill="#fff" />
<path d="M177.9,1020.5 A9.7,4.8 0 0 0 197.3,1020.5" stroke-width="1.3" fill="none" />
<ellipse cx="187.6" cy="1019.7" rx="3.2" ry="1.9" stroke-width="1.8" fill="none" />
<path d="M179.6,1018.0 L181.1,1015.0 L184.6,1015.0 L184.1,1018.5 Z" stroke-width="1.3" fill="#fff" />
<path d="M191.6,1015.5 L194.6,1014.5 L196.6,1018.5 L193.1,1019.0 Z" stroke-width="1.3" fill="#fff" />
<path d="M197.29999999999998,1020.5 L193.6,1021.5 L194.6,1024.0" stroke-width="1.3" fill="none" />
<path d="M171.2,966.5 A15.7,7.5 0 0 1 202.6,966.5 L202.6,975 A15.7,7.5 0 0 1 171.2,975 Z" stroke-width="2.0" fill="#fff" />
<path d="M171.2,966.5 A15.7,7.5 0 0 0 202.6,966.5" stroke-width="2.0" fill="none" />
<path d="M171.2,969.8 A15.7,7.5 0 0 0 202.6,969.8" stroke-width="2.0" fill="none" />
<path d="M175.3,955 A11.6,5.5 0 0 1 198.5,955 L198.5,964 A11.6,5.5 0 0 1 175.3,964 Z" stroke-width="1.6" fill="#fff" />
<path d="M171.2,945.3 A15.7,7.5 0 0 1 202.6,945.3 L202.6,953 A15.7,7.5 0 0 1 171.2,953 Z" stroke-width="2.0" fill="#fff" />
<path d="M171.2,945.3 A15.7,7.5 0 0 0 202.6,945.3" stroke-width="2.0" fill="none" />
<path d="M171.2,948.5 A15.7,7.5 0 0 0 202.6,948.5" stroke-width="1.6" fill="none" />
<ellipse cx="186.9" cy="946.5" rx="10.4" ry="5.6" stroke-width="2.6" fill="none" />
<path d="M175,960 A11.6,5 0 0 0 198.5,960" stroke-width="1.2" fill="none" />
<path d="M216.9,957.9 A16.1,9.1 0 0 1 249.1,957.9 L249.1,960.9 A16.1,9.1 0 0 1 216.9,960.9 Z" stroke-width="2.2" fill="#fff" />
<path d="M216.9,957.9 A16.1,9.1 0 0 0 249.1,957.9" stroke-width="2.2" fill="none" />
<ellipse cx="233" cy="960" rx="11.4" ry="5" stroke-width="2.2" fill="none" />
<path d="M216.9,980.3 A16.1,9.1 0 0 1 249.1,980.3 L249.1,983.3 A16.1,9.1 0 0 1 216.9,983.3 Z" stroke-width="2.2" fill="#fff" />
<path d="M216.9,980.3 A16.1,9.1 0 0 0 249.1,980.3" stroke-width="2.2" fill="none" />
<ellipse cx="233" cy="981.5" rx="11.4" ry="5" stroke-width="2.2" fill="none" />
<path d="M181.3,989 A5.8,3 0 0 1 192.9,989 L192.9,1002.3 A5.8,3 0 0 1 181.3,1002.3 Z" stroke-width="1.6" fill="#fff" />
<path d="M181.3,989 A5.8,3 0 0 0 192.9,989" stroke-width="1.6" fill="none" />
<ellipse cx="187.1" cy="989" rx="3" ry="1.5" stroke-width="1.6" fill="none" />
<path d="M184,1035.5 A3.3,1.6 0 0 1 190.6,1035.5 L190.6,1061 A3.3,1.6 0 0 1 184,1061 Z" stroke-width="1.5" fill="#fff" />
<path d="M184,1035.5 A3.3,1.6 0 0 0 190.6,1035.5" stroke-width="1.5" fill="none" />
<path d="M183.1,1061 A4.9,2 0 0 1 192.9,1061 L192.9,1082 A4.9,2 0 0 1 183.1,1082 Z" stroke-width="1.6" fill="#fff" />
<path d="M183.1,1061 A4.9,2 0 0 0 192.9,1061" stroke-width="1.6" fill="none" />
<rect x="187.3" y="1063" width="3.7" height="6.8" fill="#222" stroke="none"/>
<line x1="186.5" y1="1064" x2="186.5" y2="1080" stroke-width="0.9" />
<path d="M167.2,1101.9 L199.4,1096.3 L208.3,1110.3 L208.7,1122 L177,1129 L167.2,1114.5 Z" stroke-width="1.7" fill="#fff" />
<path d="M175.2,1115 L208.3,1110.3 M175.2,1115 L177,1129 M167.2,1101.9 L175.2,1115" stroke-width="1.6" fill="none" />
<path d="M168.6,1104 L198.5,1098.8" stroke-width="1.1" fill="none" />
<path d="M181.2,1101.5 L186.4,1112.2 M190,1099.6 L194.8,1109.8 M186.4,1112.2 L194.8,1110.5" stroke-width="1.3" fill="none" />
<path d="M169,1108 C171,1106 174,1107 175.2,1112" stroke-width="1.2" fill="none" />
<path d="M196,1105 L201,1104.5" stroke-width="1.0" fill="none" />
<ellipse cx="181.7" cy="1122" rx="2.6" ry="2.2" stroke-width="1.5" fill="none" />
<ellipse cx="203.1" cy="1117.8" rx="2.6" ry="2.2" stroke-width="1.5" fill="none" />
<line x1="189.5" y1="178" x2="189.5" y2="1132" stroke-width="0.8" stroke-dasharray="17 2.5 1 2.5"/>
<path d="M616,89.9 A12.5,7 0 0 1 641,89.9 L641,93.2 A12.5,7 0 0 1 616,93.2 Z" stroke-width="1.5" fill="#fff" />
<path d="M616,89.9 A12.5,7 0 0 0 641,89.9" stroke-width="1.5" fill="none" />
<ellipse cx="628.5" cy="89.9" rx="3.2" ry="1.8" stroke-width="1.3" fill="none" />
<path d="M622.1,114 A6.9,3 0 0 1 635.9,114 L635.9,124.5 A6.9,3 0 0 1 622.1,124.5 Z" stroke-width="1.4" fill="#fff" />
<path d="M620.3,110.7 A8.7,4.3 0 0 1 637.7,110.7 L637.7,113.5 A8.7,4.3 0 0 1 620.3,113.5 Z" stroke-width="1.5" fill="#fff" />
<path d="M620.3,110.7 A8.7,4.3 0 0 0 637.7,110.7" stroke-width="1.5" fill="none" />
<ellipse cx="629" cy="110.7" rx="5.3" ry="2.7" stroke-width="1.4" fill="none" />
<ellipse cx="629" cy="110.7" rx="2.2" ry="1.1" stroke-width="1.0" fill="none" />
<path d="M623.5,133 L624,139 A4.5,2 0 0 0 633,139 L633.5,133 Z" stroke-width="1.3" fill="#444" />
<ellipse cx="628.5" cy="131.8" rx="6" ry="3.5" stroke-width="1.8" fill="#fff" />
<ellipse cx="628.5" cy="131.8" rx="3" ry="1.6" stroke-width="1.4" fill="none" />
<path d="M552.6,228.1 A77.5,37.5 0 0 1 707.6,228.1 L707.6,250.9 A77.5,37.5 0 0 1 552.6,250.9 Z" stroke-width="1.6" fill="#fff" />
<path d="M552.6,228.1 A77.5,37.5 0 0 0 707.6,228.1" stroke-width="1.6" fill="none" />
<ellipse cx="630.1" cy="228.3" rx="70.9" ry="33.4" stroke-width="1.3" fill="none" />
<path d="M552.6,229.5 A77.5,37.5 0 0 0 707.6,229.5" stroke-width="1.2" fill="none" />
<ellipse cx="566.1" cy="238.7" rx="6.5" ry="4" stroke-width="1.3" fill="#fff" />
<ellipse cx="652.1" cy="260.6" rx="7" ry="4.5" stroke-width="1.3" fill="#fff" />
<ellipse cx="691.7" cy="212.5" rx="6.5" ry="4" stroke-width="1.3" fill="#fff" />
<ellipse cx="590.5" cy="272.4" rx="5" ry="5.8" stroke-width="1.4" fill="none" />
<path d="M590,268 A3,3.5 0 0 1 592,276" stroke-width="1.2" fill="none" />
<ellipse cx="688.3" cy="262.3" rx="3.5" ry="6" stroke-width="1.3" fill="none" />
<ellipse cx="701.8" cy="249.6" rx="2.4" ry="6" stroke-width="1.3" fill="none" />
<path d="M584.0999999999999,190.5 L584.0999999999999,227.7 A45.2,23.6 0 0 0 674.5,227.7 L674.5,190.5 A45.2,20 0 0 0 584.0999999999999,190.5 Z" stroke-width="1.6" fill="#fff" />
<path d="M584.1,203.5 A45.2,18.3 0 0 0 674.5,203.5" stroke-width="1.4" fill="none" />
<path d="M589.7,217 C587,222 587.5,233 590.5,236 C592.5,232 592.5,221 589.7,217 Z" stroke-width="1.2" fill="none" />
<ellipse cx="611.6" cy="213.9" rx="3.4" ry="2.2" stroke-width="1.2" fill="none" />
<ellipse cx="662.2" cy="203.7" rx="3.4" ry="2.2" stroke-width="1.2" fill="none" />
<ellipse cx="642.8" cy="217.6" rx="3.4" ry="2.2" stroke-width="1.2" fill="none" />
<path d="M607.4,199 C612,206 646,206 651,198" stroke-width="1.3" fill="none" />
<path d="M584.0999999999999,173.6 A45.2,25.5 0 0 1 674.5,173.6 L674.5,175 A45.2,25.5 0 0 1 584.0999999999999,175 Z" stroke-width="1.6" fill="#fff" />
<path d="M584.1,173.6 A45.2,25.5 0 0 0 674.5,173.6" stroke-width="1.3" fill="none" />
<ellipse cx="629.4" cy="174.5" rx="22.8" ry="12.65" stroke-width="1.5" fill="none" />
<path d="M607,176 C612,170 646,168 652,174" stroke-width="1.2" fill="none" />
<path d="M612.4,176 A17,9.5 0 0 0 646.4,176" stroke-width="1.1" fill="none" />
<ellipse cx="591.4" cy="168.7" rx="3.4" ry="2.2" stroke-width="1.3" fill="none" />
<ellipse cx="605.7" cy="166.1" rx="3.4" ry="2.2" stroke-width="1.3" fill="none" />
<ellipse cx="638.6" cy="159.4" rx="3.4" ry="2.2" stroke-width="1.3" fill="none" />
<ellipse cx="652.1" cy="156" rx="3.4" ry="2.2" stroke-width="1.3" fill="none" />
<ellipse cx="662.2" cy="180.5" rx="3.4" ry="2.2" stroke-width="1.3" fill="none" />
<ellipse cx="638.6" cy="181.8" rx="3.4" ry="2.2" stroke-width="1.3" fill="none" />
<ellipse cx="611.6" cy="190.6" rx="3.4" ry="2.2" stroke-width="1.3" fill="none" />
<ellipse cx="642.8" cy="194.8" rx="3.4" ry="2.2" stroke-width="1.3" fill="none" />
<ellipse cx="591.4" cy="190.6" rx="3.4" ry="2.2" stroke-width="1.3" fill="none" />
<path d="M711,187.8 C703,189 700,197 703.5,202 C705,204 708,204.5 712.2,204.4 L731,201.4 C731.8,197 731.8,190 730.5,184.7 Z" stroke-width="1.5" fill="#fff" />
<path d="M711,187.8 C714,192 714.5,200 712.2,204.4" stroke-width="1.4" fill="none" />
<path d="M737.2,184 L756.7,179.9 L758.75,194.4 L739.3,197.2 Z" stroke-width="1.2" fill="#222" />
<path d="M739.5,185.0 C741.8,187.0 741.8,194.0 740.7,196.5" stroke-width="0.8" fill="none" stroke="#fff"/>
<path d="M743.3,184.2 C745.5999999999999,186.2 745.5999999999999,193.2 744.5,195.7" stroke-width="0.8" fill="none" stroke="#fff"/>
<path d="M747.1,183.4 C749.4,185.4 749.4,192.4 748.3000000000001,194.9" stroke-width="0.8" fill="none" stroke="#fff"/>
<path d="M750.9,182.6 C753.1999999999999,184.6 753.1999999999999,191.6 752.1,194.1" stroke-width="0.8" fill="none" stroke="#fff"/>
<path d="M754.7,181.8 C757.0,183.8 757.0,190.8 755.9000000000001,193.3" stroke-width="0.8" fill="none" stroke="#fff"/>
<ellipse cx="767.4" cy="185.4" rx="5.9" ry="13.2" stroke-width="1.6" fill="#fff" />
<ellipse cx="767.4" cy="185.4" rx="3.4" ry="10.3" stroke-width="1.3" fill="none" />
<path d="M778.9,168.75 L805.3,162.5 L813,161 L817,168 L818,185 L815,190.3 L784.4,194.4 Z" stroke-width="1.6" fill="#fff" />
<ellipse cx="780.3" cy="181.25" rx="5" ry="13" stroke-width="1.6" fill="#fff" />
<ellipse cx="780.8" cy="181.25" rx="3.2" ry="10.5" stroke-width="1.3" fill="none" />
<path d="M789,167.3 C792.5,172 792.5,188 790.5,193.5" stroke-width="1.5" fill="none" />
<path d="M793,166.34 C796.5,172 796.5,188 794.5,192.7" stroke-width="1.5" fill="none" />
<path d="M797,165.38000000000002 C800.5,172 800.5,188 798.5,191.9" stroke-width="1.5" fill="none" />
<path d="M805.3,162.5 C809,168 809,184 806.5,191.3" stroke-width="1.3" fill="none" />
<path d="M813,161 C816.5,167 816.5,183 815,190.3" stroke-width="1.2" fill="none" />
<line x1="812" y1="168" x2="818" y2="168" stroke-width="1" />
<line x1="812" y1="180" x2="818" y2="180" stroke-width="1" />
<path d="M415.5,242.7 L448.4,237.6 C453,241 456.5,250 455.5,262 C455,265 453,267 451,267.5 L423.2,270.5 Z" stroke-width="1.7" fill="#fff" />
<ellipse cx="419.3" cy="256.3" rx="5" ry="14" stroke-width="1.7" fill="#fff" />
<path d="M421.5,243 C425.5,249 425.5,264 423.5,270" stroke-width="1.2" fill="none" />
<path d="M436.5,240.2 C440.0,246 440.0,260 438.3,268.5" stroke-width="1.4" fill="none" />
<path d="M439.5,238.85 C443.0,246 443.0,260 441.3,267.6" stroke-width="2.4" fill="none" />
<path d="M443,237.27499999999998 C446.5,246 446.5,260 444.8,266.55" stroke-width="2.4" fill="none" />
<path d="M446.5,235.7 C450.0,246 450.0,260 448.3,265.5" stroke-width="1.4" fill="none" />
<line x1="422.5" y1="257" x2="426.5" y2="257" stroke-width="1.1" />
<ellipse cx="467" cy="246.6" rx="5.6" ry="13.3" stroke-width="1.7" fill="#fff" />
<ellipse cx="467" cy="246.6" rx="3.3" ry="10.8" stroke-width="1.2" fill="none" />
<path d="M475.4,237 L494.7,234.5 L496.7,248.5 L477.5,252 Z" stroke-width="1.4" fill="#1a1a1a" />
<path d="M477.5,237.5 C479.8,240.0 479.8,247.0 478.7,251.0" stroke-width="0.8" fill="none" stroke="#fff"/>
<path d="M481.3,237.0 C483.6,239.5 483.6,246.5 482.5,250.5" stroke-width="0.8" fill="none" stroke="#fff"/>
<path d="M485.1,236.5 C487.40000000000003,239.0 487.40000000000003,246.0 486.3,250.0" stroke-width="0.8" fill="none" stroke="#fff"/>
<path d="M488.9,236.0 C491.2,238.5 491.2,245.5 490.09999999999997,249.5" stroke-width="0.8" fill="none" stroke="#fff"/>
<path d="M492.7,235.5 C495.0,238.0 495.0,245.0 493.9,249.0" stroke-width="0.8" fill="none" stroke="#fff"/>
<path d="M504.5,229.9 L520,227 C528,226 531,231 530,236 C529,242 524,244 521,245 L506,248 Z" stroke-width="1.6" fill="#fff" />
<ellipse cx="504.5" cy="238.9" rx="3.5" ry="9" stroke-width="1.6" fill="#fff" />
<path d="M520,227 C523,232 523.5,240 521,245" stroke-width="1.4" fill="none" />
<path d="M759,253.0 L750,252.0 A3.3,7.8 0 0 0 750,267.6 L759,268.6 Z" stroke-width="1.7" fill="#fff" />
<path d="M755.4,252.6 A3.3,7.8 0 0 0 755.4,268.20000000000005" stroke-width="1.5" fill="none" />
<ellipse cx="759" cy="260.8" rx="3.3" ry="7.8" stroke-width="1.7" fill="#222" />
<ellipse cx="759.5" cy="261.8" rx="0.7" ry="1.5" stroke-width="0" fill="#fff" stroke="none"/>
<path d="M556.8,298.6 L556.82,298.01 L556.9,297.42 L557.01,296.84 L557.18,296.27 L557.39,295.73 L557.64,295.2 L557.94,294.7 L558.27,294.23 L558.65,293.79 L559.05,293.39 L564.45,288.89 L564.89,288.53 L565.35,288.21 L565.84,287.94 L566.35,287.71 L566.87,287.53 L567.41,287.4 L567.95,287.33 L568.5,287.3 L569.05,287.33 L569.59,287.4 L570.13,287.53 L570.65,287.71 L571.16,287.94 L571.65,288.21 L572.11,288.53 L572.55,288.89 L572.95,289.29 L573.33,289.73 L573.66,290.2 L573.96,290.7 L574.21,291.23 L574.42,291.77 L574.59,292.34 L574.7,292.92 L574.78,293.51 L574.8,294.1 L574.78,294.69 L574.7,295.28 L574.59,295.86 L574.42,296.43 L574.21,296.97 L573.96,297.5 L573.66,298.0 L573.33,298.47 L572.95,298.91 L572.55,299.31 L567.15,303.81 L566.71,304.17 L566.25,304.49 L565.76,304.76 L565.25,304.99 L564.73,305.17 L564.19,305.3 L563.65,305.37 L563.1,305.4 L562.55,305.37 L562.01,305.3 L561.47,305.17 L560.95,304.99 L560.44,304.76 L559.95,304.49 L559.49,304.17 L559.05,303.81 L558.65,303.41 L558.27,302.97 L557.94,302.5 L557.64,302.0 L557.39,301.47 L557.18,300.93 L557.01,300.36 L556.9,299.78 L556.82,299.19 Z" stroke-width="1.6" fill="#fff" />
<path d="M563.64,290.11500000000007 A6.3,6.8 0 0 1 571.515,298.61500000000007" stroke-width="1.1" fill="none" />
<ellipse cx="563.1" cy="298.6" rx="6.3" ry="6.8" stroke-width="1.6" fill="#fff" />
<ellipse cx="563.1" cy="298.6" rx="5.04" ry="5.44" stroke-width="0" fill="#222" stroke="none"/>
<ellipse cx="561.6" cy="298.4" rx="1.1" ry="1.3" stroke-width="0" fill="#fff" stroke="none"/>
<ellipse cx="564.9" cy="300.6" rx="1" ry="0.9" stroke-width="0" fill="#fff" stroke="none"/>
<ellipse cx="630.5" cy="317.6" rx="58.7" ry="31.5" stroke-width="1.8" fill="none" />
<ellipse cx="630.5" cy="317.8" rx="56.4" ry="29.4" stroke-width="1.4" fill="none" />
<path d="M573.5,357.5 A59,32 0 0 1 691.5,357.5 L691.5,470.6 A59,32 0 0 1 573.5,470.6 Z" stroke-width="1.6" fill="#fff" />
<ellipse cx="632.5" cy="357.5" rx="59" ry="32" stroke-width="1.8" fill="none" />
<ellipse cx="632.5" cy="358.5" rx="56.4" ry="30" stroke-width="1.3" fill="none" />
<path d="M571.8,317.6 A58.7,31.5 0 0 0 689.2,317.6" stroke-width="1.8" fill="none" />
<path d="M574.1,317.8 A56.4,29.4 0 0 0 686.9,317.8" stroke-width="1.4" fill="none" />
<ellipse cx="632" cy="526.2" rx="58.5" ry="30.3" stroke-width="1.8" fill="none" />
<ellipse cx="632" cy="526.4" rx="56.2" ry="28.2" stroke-width="1.4" fill="none" />
<path d="M578.15,570.6 A54.85,30.3 0 0 1 687.85,570.6 L687.85,583 A54.85,30.3 0 0 1 578.15,583 Z" stroke-width="1.6" fill="#fff" />
<ellipse cx="633" cy="570.6" rx="54.85" ry="30.3" stroke-width="1.6" fill="none" />
<path d="M578.15,572.7 A54.85,30.3 0 0 0 687.85,572.7" stroke-width="2.0" fill="none" />
<path d="M578.15,575.5 A54.85,30.3 0 0 0 687.85,575.5" stroke-width="1.2" fill="none" />
<path d="M578.15,577.6 A54.85,30.3 0 0 0 687.85,577.6" stroke-width="2.0" fill="none" />
<path d="M578.15,580.4 A54.85,30.3 0 0 0 687.85,580.4" stroke-width="1.2" fill="none" />
<path d="M578.15,583.1 A54.85,30.3 0 0 0 687.85,583.1" stroke-width="1.8" fill="none" />
<ellipse cx="601.4" cy="577.2" rx="3.8" ry="2" stroke-width="1.3" fill="none" />
<ellipse cx="632.6" cy="571" rx="4" ry="2.2" stroke-width="1.3" fill="#333" />
<ellipse cx="663.6" cy="564.4" rx="3.8" ry="2" stroke-width="1.3" fill="none" />
<path d="M573.5,526.2 A58.5,30.3 0 0 0 690.5,526.2" stroke-width="1.8" fill="none" />
<path d="M575.8,526.4 A56.2,28.2 0 0 0 688.2,526.4" stroke-width="1.4" fill="none" />
<path d="M505.2,391.6 A6.8,4.2 0 0 1 518.8,391.6 L518.8,393.1 A6.8,4.2 0 0 1 505.2,393.1 Z" stroke-width="1.8" fill="#fff" />
<path d="M505.2,391.6 A6.8,4.2 0 0 0 518.8,391.6" stroke-width="1.8" fill="none" />
<ellipse cx="512" cy="391.6" rx="3.26" ry="1.89" stroke-width="1.4" fill="none" />
<path d="M505.7,502.8 A6.8,4.2 0 0 1 519.3,502.8 L519.3,504.3 A6.8,4.2 0 0 1 505.7,504.3 Z" stroke-width="1.8" fill="#fff" />
<path d="M505.7,502.8 A6.8,4.2 0 0 0 519.3,502.8" stroke-width="1.8" fill="none" />
<ellipse cx="512.5" cy="502.8" rx="3.26" ry="1.89" stroke-width="1.4" fill="none" />
<path d="M756.7,341.6 A6.5,4 0 0 1 769.7,341.6 L769.7,343.1 A6.5,4 0 0 1 756.7,343.1 Z" stroke-width="1.8" fill="#fff" />
<path d="M756.7,341.6 A6.5,4 0 0 0 769.7,341.6" stroke-width="1.8" fill="none" />
<ellipse cx="763.2" cy="341.6" rx="3.12" ry="1.8" stroke-width="1.4" fill="none" />
<path d="M757.6,452.7 A6.5,4 0 0 1 770.6,452.7 L770.6,454.2 A6.5,4 0 0 1 757.6,454.2 Z" stroke-width="1.8" fill="#fff" />
<path d="M757.6,452.7 A6.5,4 0 0 0 770.6,452.7" stroke-width="1.8" fill="none" />
<ellipse cx="764.1" cy="452.7" rx="3.12" ry="1.8" stroke-width="1.4" fill="none" />
<path d="M532.4,383.6 L532.9,500 A6.6,2.8 0 0 0 546.1,500 L546.6,383.6 Z" stroke-width="1.5" fill="#fff" />
<ellipse cx="539.5" cy="383.6" rx="7.1" ry="3.3" stroke-width="1.6" fill="#fff" />
<ellipse cx="539.5" cy="383.6" rx="3.91" ry="2" stroke-width="1.3" fill="none" />
<path d="M532.4,387.1 A7.1,3.3 0 0 0 546.6,387.1" stroke-width="1.3" fill="none" />
<path d="M532.9,497 A6.6,2.8 0 0 0 546.1,497" stroke-width="1.6" fill="none" />
<path d="M532.9,498.5 A6.6,2.8 0 0 0 546.1,498.5" stroke-width="1.2" fill="none" />
<line x1="534.9" y1="390.6" x2="535.2" y2="496" stroke-width="0.9" />
<path d="M736.4,343.8 L736.9,458.5 A6.6,2.8 0 0 0 750.1,458.5 L750.6,343.8 Z" stroke-width="1.5" fill="#fff" />
<ellipse cx="743.5" cy="343.8" rx="7.1" ry="3.3" stroke-width="1.6" fill="#fff" />
<ellipse cx="743.5" cy="343.8" rx="3.91" ry="2" stroke-width="1.3" fill="none" />
<path d="M736.4,347.3 A7.1,3.3 0 0 0 750.6,347.3" stroke-width="1.3" fill="none" />
<path d="M736.9,455.5 A6.6,2.8 0 0 0 750.1,455.5" stroke-width="1.6" fill="none" />
<path d="M736.9,457 A6.6,2.8 0 0 0 750.1,457" stroke-width="1.2" fill="none" />
<line x1="738.9" y1="350.8" x2="739.2" y2="454.5" stroke-width="0.9" />
<path d="M809.0,369.5 L809.0,505.5 A4.3,2 0 0 0 817.5999999999999,505.5 L817.5999999999999,369.5 Z" stroke-width="1.4" fill="#fff" />
<path d="M806.3,362.2 L806.3,369.5 A7,3 0 0 0 820.3,369.5 L820.3,362.2 Z" stroke-width="1.5" fill="#fff" />
<ellipse cx="813.3" cy="362.2" rx="7" ry="3" stroke-width="1.5" fill="#fff" />
<ellipse cx="813.3" cy="362.2" rx="3.2" ry="1.6" stroke-width="1.2" fill="none" />
<path d="M824.3000000000001,403.2 L824.3000000000001,538.6 A4.3,2 0 0 0 832.9,538.6 L832.9,403.2 Z" stroke-width="1.4" fill="#fff" />
<path d="M821.6,395.9 L821.6,403.2 A7,3 0 0 0 835.6,403.2 L835.6,395.9 Z" stroke-width="1.5" fill="#fff" />
<ellipse cx="828.6" cy="395.9" rx="7" ry="3" stroke-width="1.5" fill="#fff" />
<ellipse cx="828.6" cy="395.9" rx="3.2" ry="1.6" stroke-width="1.2" fill="none" />
<path d="M855.7,363.5 L855.7,500.5 A4.3,2 0 0 0 864.3,500.5 L864.3,363.5 Z" stroke-width="1.4" fill="#fff" />
<path d="M853,356.2 L853,363.5 A7,3 0 0 0 867,363.5 L867,356.2 Z" stroke-width="1.5" fill="#fff" />
<ellipse cx="860" cy="356.2" rx="7" ry="3" stroke-width="1.5" fill="#fff" />
<ellipse cx="860" cy="356.2" rx="3.2" ry="1.6" stroke-width="1.2" fill="none" />
<path d="M873.2,393.6 L873.2,529.1 A4.3,2 0 0 0 881.8,529.1 L881.8,393.6 Z" stroke-width="1.4" fill="#fff" />
<path d="M870.5,386.3 L870.5,393.6 A7,3 0 0 0 884.5,393.6 L884.5,386.3 Z" stroke-width="1.5" fill="#fff" />
<ellipse cx="877.5" cy="386.3" rx="7" ry="3" stroke-width="1.5" fill="#fff" />
<ellipse cx="877.5" cy="386.3" rx="3.2" ry="1.6" stroke-width="1.2" fill="none" />
<path d="M803.3,520 A10,5.6 0 0 1 823.3,520 L823.3,522 A10,5.6 0 0 1 803.3,522 Z" stroke-width="1.5" fill="#fff" />
<path d="M803.3,520 A10,5.6 0 0 0 823.3,520" stroke-width="1.5" fill="none" />
<ellipse cx="813.3" cy="520" rx="4.5" ry="2.6" stroke-width="1.4" fill="none" />
<ellipse cx="813.3" cy="520" rx="2.3" ry="1.2" stroke-width="1.0" fill="none" />
<path d="M820.8,554.3 A10,5.6 0 0 1 840.8,554.3 L840.8,556.3 A10,5.6 0 0 1 820.8,556.3 Z" stroke-width="1.5" fill="#fff" />
<path d="M820.8,554.3 A10,5.6 0 0 0 840.8,554.3" stroke-width="1.5" fill="none" />
<ellipse cx="830.8" cy="554.3" rx="4.5" ry="2.6" stroke-width="1.4" fill="none" />
<ellipse cx="830.8" cy="554.3" rx="2.3" ry="1.2" stroke-width="1.0" fill="none" />
<path d="M851,515.2 A10,5.6 0 0 1 871,515.2 L871,517.2 A10,5.6 0 0 1 851,517.2 Z" stroke-width="1.5" fill="#fff" />
<path d="M851,515.2 A10,5.6 0 0 0 871,515.2" stroke-width="1.5" fill="none" />
<ellipse cx="861" cy="515.2" rx="4.5" ry="2.6" stroke-width="1.4" fill="none" />
<ellipse cx="861" cy="515.2" rx="2.3" ry="1.2" stroke-width="1.0" fill="none" />
<path d="M869,548 A10,5.6 0 0 1 889,548 L889,550 A10,5.6 0 0 1 869,550 Z" stroke-width="1.5" fill="#fff" />
<path d="M869,548 A10,5.6 0 0 0 889,548" stroke-width="1.5" fill="none" />
<ellipse cx="879" cy="548" rx="4.5" ry="2.6" stroke-width="1.4" fill="none" />
<ellipse cx="879" cy="548" rx="2.3" ry="1.2" stroke-width="1.0" fill="none" />
<path d="M695.2,576.6 A55.1,30.6 0 0 1 805.4,576.6 L805.4,580.6 A55.1,30.6 0 0 1 695.2,580.6 Z" stroke-width="1.8" fill="#fff" />
<path d="M695.2,576.6 A55.1,30.6 0 0 0 805.4,576.6" stroke-width="1.8" fill="none" />
<ellipse cx="750.3" cy="577" rx="47.1" ry="22.5" stroke-width="1.5" fill="none" />
<path d="M698.3,578.5 A52,28.2 0 0 0 802.3,578.5" stroke-width="1.2" fill="none" />
<path d="M629.3,612 L629.3,746.4 L637.1,746.4 L637.1,612" stroke-width="1.5" fill="#fff" />
<line x1="631.5" y1="620" x2="631.6" y2="740" stroke-width="0.8" />
<path d="M627,748 L627,778.6 A6.3,2 0 0 0 639.6,778.6 L639.6,748 Z" stroke-width="1.5" fill="#fff" />
<path d="M627.2,755 L639.4,755" stroke-width="1.4" fill="none" />
<rect x="628" y="756.5" width="10.5" height="15" fill="#333" stroke="none"/>
<path d="M627.2,772 L639.4,772" stroke-width="1.4" fill="none" />
<path d="M630,622 L636,622 M630,626 L636,626" stroke-width="1.0" fill="none" />
<path d="M649,797 A17.8,11.1 0 1 0 651.5,806.5" stroke-width="2.4" fill="none" />
<path d="M645.5,798.5 A14,7.7 0 1 0 647,808" stroke-width="1.5" fill="none" />
<path d="M643,797 L649.5,797.5" stroke-width="3.2" fill="none" />
<path d="M648.5,804.5 L649,808.5" stroke-width="3.2" fill="none" />
<path d="M621,819.5 A13.2,5.5 0 0 1 647.4,819.5 L647.4,824.5 A13.2,5.5 0 0 1 621,824.5 Z" stroke-width="1.8" fill="#fff" />
<path d="M621,819.5 A13.2,5.5 0 0 0 647.4,819.5" stroke-width="1.8" fill="none" />
<ellipse cx="634.2" cy="820" rx="10.3" ry="4.3" stroke-width="1.6" fill="none" />
<ellipse cx="634.2" cy="821" rx="8" ry="3.2" stroke-width="1.2" fill="none" />
<path d="M620.3,844 L620.8,853.5 A13.8,4.3 0 0 0 648.2,853.5 L648.6,844" stroke-width="1.6" fill="#fff" />
<path d="M620.5,850.3 A14,4.3 0 0 0 648.5,850.3" stroke-width="1.4" fill="none" />
<path d="M616.2,835.5 A18.3,8.5 0 0 1 652.8,835.5 L652.8,839 A18.3,8.5 0 0 1 616.2,839 Z" stroke-width="1.8" fill="#fff" />
<path d="M616.2,835.5 A18.3,8.5 0 0 0 652.8,835.5" stroke-width="1.8" fill="none" />
<path d="M616.2,836.5 A18.3,8.5 0 0 0 652.8,836.5" stroke-width="1.5" fill="none" />
<ellipse cx="634.5" cy="835.7" rx="11.3" ry="5.9" stroke-width="2.2" fill="none" />
<ellipse cx="634.5" cy="836.5" rx="9" ry="4" stroke-width="1.3" fill="none" />
<ellipse cx="634.4" cy="866.3" rx="16.2" ry="9.3" stroke-width="1.8" fill="none" />
<ellipse cx="634.4" cy="866.3" rx="14.9" ry="8.1" stroke-width="1.2" fill="none" />
<path d="M557.9,921.6 A78,43.7 0 0 1 713.9,921.6 L713.9,943.1 A78,43.7 0 0 1 557.9,943.1 Z" stroke-width="1.6" fill="#fff" />
<path d="M557.9,921.6 A78,43.7 0 0 0 713.9,921.6" stroke-width="1.6" fill="none" />
<ellipse cx="635" cy="920.3" rx="58.6" ry="31.7" stroke-width="1.5" fill="none" />
<ellipse cx="635" cy="921.3" rx="56" ry="29.8" stroke-width="1.2" fill="none" />
<ellipse cx="634.9" cy="919.7" rx="18.6" ry="10.45" stroke-width="2.0" fill="#fff" />
<path d="M617.5,918 A17.4,9.3 0 0 1 652.3,918" stroke-width="3.2" fill="none" />
<path d="M617.4,915 A17.5,4.3 0 0 0 652.4,915" stroke-width="1.6" fill="none" />
<path d="M618.9,917 A16,6.1 0 0 0 650.9,917" stroke-width="1.8" fill="none" />
<path d="M620.4,919 A14.5,6.9 0 0 0 649.4,919" stroke-width="1.8" fill="none" />
<path d="M621.9,921 A13,7.3 0 0 0 647.9,921" stroke-width="1.6" fill="none" />
<ellipse cx="612.1" cy="885.7" rx="3.8" ry="2.5" stroke-width="1.3" fill="#fff" />
<ellipse cx="629.3" cy="883.2" rx="3.8" ry="2.5" stroke-width="1.3" fill="#fff" />
<ellipse cx="697.9" cy="908.2" rx="3.8" ry="2.5" stroke-width="1.3" fill="#fff" />
<ellipse cx="703.2" cy="917.9" rx="3.8" ry="2.5" stroke-width="1.3" fill="#fff" />
<ellipse cx="680" cy="928.9" rx="3.8" ry="2.5" stroke-width="1.3" fill="#fff" />
<ellipse cx="698.6" cy="934.3" rx="3.8" ry="2.5" stroke-width="1.3" fill="#fff" />
<ellipse cx="571.8" cy="934.3" rx="3.8" ry="2.5" stroke-width="1.3" fill="#fff" />
<ellipse cx="578.2" cy="943.9" rx="3.8" ry="2.5" stroke-width="1.3" fill="#fff" />
<ellipse cx="609.3" cy="943.9" rx="3.8" ry="2.5" stroke-width="1.3" fill="#fff" />
<ellipse cx="599.6" cy="955.7" rx="3.8" ry="2.5" stroke-width="1.3" fill="#fff" />
<ellipse cx="657.5" cy="956.4" rx="3.8" ry="2.5" stroke-width="1.3" fill="#fff" />
<ellipse cx="596" cy="972.5" rx="5" ry="7" stroke-width="1.4" fill="none" />
<ellipse cx="706.8" cy="949.3" rx="3" ry="7" stroke-width="1.4" fill="none" />
<path d="M748.5,942.4 L737.5,941.4 A3.3,8.5 0 0 0 737.5,958.4 L748.5,959.4 Z" stroke-width="1.7" fill="#fff" />
<path d="M744.1,942.0 A3.3,8.5 0 0 0 744.1,959.0" stroke-width="1.5" fill="none" />
<ellipse cx="748.5" cy="950.9" rx="3.3" ry="8.5" stroke-width="1.7" fill="#222" />
<ellipse cx="749" cy="951.9" rx="0.7" ry="1.5" stroke-width="0" fill="#fff" stroke="none"/>
<path d="M567.9,987.2 L567.93,986.56 L568.0,985.93 L568.13,985.31 L568.31,984.7 L568.54,984.11 L568.81,983.55 L569.13,983.01 L569.49,982.51 L569.89,982.04 L570.33,981.61 L575.83,976.61 L576.3,976.22 L576.8,975.88 L577.33,975.58 L577.87,975.34 L578.44,975.15 L579.02,975.01 L579.61,974.93 L580.2,974.9 L580.79,974.93 L581.38,975.01 L581.96,975.15 L582.53,975.34 L583.07,975.58 L583.6,975.88 L584.1,976.22 L584.57,976.61 L585.01,977.04 L585.41,977.51 L585.77,978.01 L586.09,978.55 L586.36,979.11 L586.59,979.7 L586.77,980.31 L586.9,980.93 L586.97,981.56 L587.0,982.2 L586.97,982.84 L586.9,983.47 L586.77,984.09 L586.59,984.7 L586.36,985.29 L586.09,985.85 L585.77,986.39 L585.41,986.89 L585.01,987.36 L584.57,987.79 L579.07,992.79 L578.6,993.18 L578.1,993.52 L577.57,993.82 L577.03,994.06 L576.46,994.25 L575.88,994.39 L575.29,994.47 L574.7,994.5 L574.11,994.47 L573.52,994.39 L572.94,994.25 L572.37,994.06 L571.83,993.82 L571.3,993.52 L570.8,993.18 L570.33,992.79 L569.89,992.36 L569.49,991.89 L569.13,991.39 L568.81,990.85 L568.54,990.29 L568.31,989.7 L568.13,989.09 L568.0,988.47 L567.93,987.84 Z" stroke-width="1.6" fill="#fff" />
<path d="M575.1350000000001,978.0150000000001 A6.8,7.3 0 0 1 583.6350000000001,987.1400000000001" stroke-width="1.1" fill="none" />
<ellipse cx="574.7" cy="987.2" rx="6.8" ry="7.3" stroke-width="1.6" fill="#fff" />
<ellipse cx="574.7" cy="987.2" rx="5.44" ry="5.84" stroke-width="0" fill="#222" stroke="none"/>
<ellipse cx="573.2" cy="987" rx="1.1" ry="1.3" stroke-width="0" fill="#fff" stroke="none"/>
<ellipse cx="576.5" cy="989.2" rx="1" ry="0.9" stroke-width="0" fill="#fff" stroke="none"/>
<path d="M625,1003 L625.5,1114 L626.5,1116 L626.5,1124 A9.3,4 0 0 0 645.2,1124 L645.2,1116 L646.2,1114 L646.1,1003 Z" stroke-width="1.6" fill="#fff" />
<path d="M625.2,1113.5 A10.4,4 0 0 0 646,1113.5" stroke-width="1.4" fill="none" />
<line x1="629" y1="1117" x2="629" y2="1126" stroke-width="1.1" />
<path d="M626.2,995 A9.6,4.2 0 0 1 645.4,995 L645.4,1002.5 A9.6,4.2 0 0 1 626.2,1002.5 Z" stroke-width="1.7" fill="#fff" />
<path d="M626.2,995 A9.6,4.2 0 0 0 645.4,995" stroke-width="1.7" fill="none" />
<path d="M625.2,1002.5 A10.6,4.4 0 0 0 646.4,1002.5" stroke-width="1.8" fill="none" />
<ellipse cx="635.8" cy="995" rx="5.2" ry="2.5" stroke-width="1.6" fill="none" />
<line x1="628.8" y1="78" x2="635.5" y2="1128" stroke-width="0.8" stroke-dasharray="17 2.5 1 2.5"/>
<line x1="636" y1="1136" x2="636" y2="1145" stroke-width="1.2" />
</svg></body></html>
